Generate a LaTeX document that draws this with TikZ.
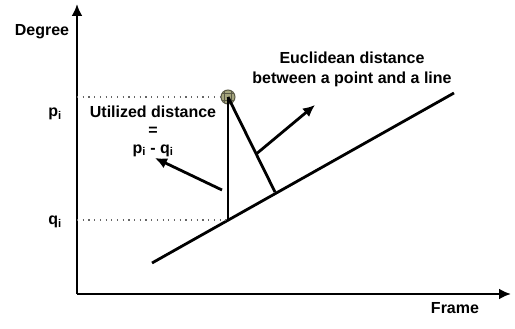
\documentclass[tikz,border=0pt]{standalone}
\usepackage{fontspec}
\setmainfont{Liberation Sans}
\usetikzlibrary{arrows.meta,positioning,calc}
\definecolor{pontkeret}{RGB}{90,90,70}
\definecolor{pontbel}{RGB}{165,165,125}
\tikzset{
  nyil/.style={-{Latex[length=12pt,width=11pt]}},
  seg/.style={line width=2.8pt},
  tengely/.style={line width=2.8pt,nyil},
  pontozott/.style={black!60,line width=1.2pt,dash pattern=on 1.2pt off 4.5pt},
  felirat/.style={font=\bfseries\fontsize{16}{18}\selectfont,inner sep=0pt,align=center},
  pont/.style={circle,draw=pontkeret,line width=1pt,
    fill=pontbel,minimum size=14pt,inner sep=0pt,
    path picture={\draw[pontkeret,line width=0.6pt]
      ($(path picture bounding box.center)+(-3.5pt,-9pt)$) -- +(0,18pt)
      ($(path picture bounding box.center)+(3.5pt,-9pt)$) -- +(0,18pt)
      ($(path picture bounding box.center)+(-9pt,-3.5pt)$) -- +(18pt,0)
      ($(path picture bounding box.center)+(-9pt,3.5pt)$) -- +(18pt,0);}},
}

\begin{document}
\begin{tikzpicture}[x=1pt,y=-1pt]
  \useasboundingbox (0,0) rectangle (515,329);
  % axes
  \coordinate (o) at (77,294);
  \coordinate (ytop) at (77,4);
  \coordinate (xend) at (511,294);
  \draw[tengely] (o) -- (ytop);
  \draw[tengely] (o) -- (xend);
  \node[felirat,anchor=base] (degree) at (42,36) {Degree};
  \node[felirat,anchor=base] (frame) at (455,313) {Frame};
  % fitted line and the point
  \coordinate (la) at (152,263);
  \coordinate (lb) at (454,93);
  \draw[seg] (la) -- (lb);
  \node[pont] (pt) at (228,97) {};
  \coordinate (qpt) at (228,220);
  \coordinate (foot) at (275,192);
  \coordinate (pax) at (o |- pt);
  \coordinate (qax) at (o |- qpt);
  \draw[pontozott] (pax) -- (pt.west);
  \draw[pontozott] (qax) -- (qpt);
  \draw[seg] (pt.center) -- (qpt);
  \draw[seg] (pt.center) -- (foot);
  \node[felirat,anchor=base] (p) at (55,117) {p\textsubscript{i}};
  \node[felirat,anchor=base] (q) at (55,225) {q\textsubscript{i}};
  % labels with arrows
  \node[felirat] (util) at (153,131) {Utilized distance\\=\\p\textsubscript{i} - q\textsubscript{i}};
  \node[felirat] (eukl) at (352,69) {Euclidean distance\\[2pt]between a point and a line};
  \coordinate (ua) at (222,190);
  \coordinate (ea) at ($(pt.center)!0.6!(foot)$);
  \draw[seg,nyil] (ua) -- (155,158) coordinate (ub);
  \draw[seg,nyil] (ea) -- (315,105) coordinate (eb);
\end{tikzpicture}
\end{document}
